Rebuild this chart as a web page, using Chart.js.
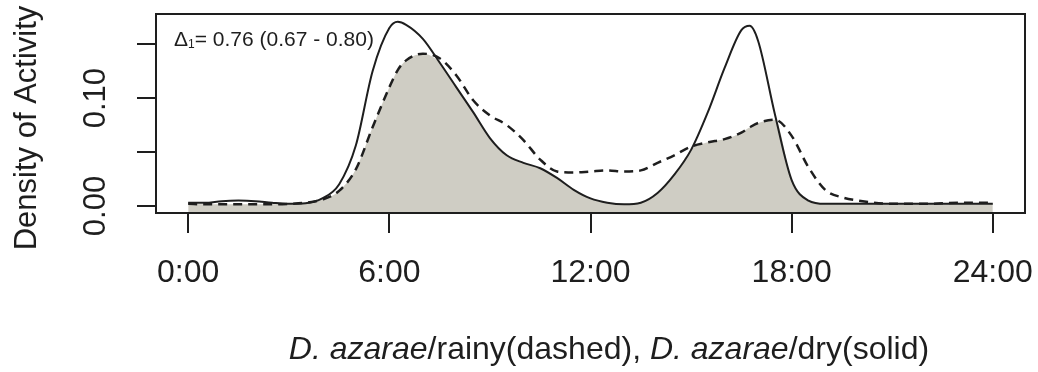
<!DOCTYPE html>
<html>
<head>
<meta charset="utf-8">
<script src="https://cdn.jsdelivr.net/npm/chart.js@4.4.1/dist/chart.umd.min.js"></script>
<style>
  html, body { margin: 0; padding: 0; background: #fff; }
</style>
</head>
<body>
<canvas id="overlapChart" width="1038" height="372"></canvas>
<script>
// kernel density of activity over the day, same hour grid for both seasons
const hours = [0, 0.5, 1, 1.5, 2, 2.5, 3, 3.5, 4, 4.5, 5, 5.5, 6, 6.25, 6.5, 7, 7.5, 8, 8.5, 9, 9.5,
  10, 10.5, 11, 11.5, 12, 12.5, 13, 13.5, 14, 14.5, 15, 15.5, 16, 16.5, 16.75, 17, 17.5, 18, 18.5,
  19, 19.5, 20, 21, 22, 23, 24];
const dryDensity = [0.003, 0.003, 0.0045, 0.005, 0.0045, 0.003, 0.002, 0.0025, 0.007, 0.02, 0.056,
  0.125, 0.165, 0.1707, 0.168, 0.155, 0.133, 0.11, 0.087, 0.063, 0.047, 0.04, 0.035, 0.026, 0.015,
  0.007, 0.003, 0.0015, 0.003, 0.012, 0.029, 0.052, 0.087, 0.128, 0.163, 0.167, 0.153, 0.085, 0.024,
  0.005, 0.002, 0.002, 0.002, 0.002, 0.002, 0.002, 0.002];
const rainyDensity = [0.002, 0.0015, 0.0015, 0.0015, 0.0015, 0.0015, 0.002, 0.003, 0.006, 0.014, 0.034,
  0.073, 0.11, 0.126, 0.135, 0.1412, 0.137, 0.121, 0.098, 0.084, 0.075, 0.061, 0.043, 0.032, 0.031,
  0.032, 0.033, 0.032, 0.033, 0.04, 0.047, 0.055, 0.059, 0.062, 0.068, 0.073, 0.077, 0.08, 0.065,
  0.036, 0.015, 0.008, 0.005, 0.002, 0.002, 0.003, 0.003];

const hourTicks = [0, 6, 12, 18, 24];
const hourLabels = ["0:00", "6:00", "12:00", "18:00", "24:00"];
const densityTicks = [0, 0.05, 0.1, 0.15];
const densityLabels = ["0.00", "", "0.10", ""];

const overlapEstimate = "0.76";
const overlapLower = "0.67";
const overlapUpper = "0.80";

const FONT = "'Liberation Sans', Arial, sans-serif";
const INK = "#1e1e1e";

function points(ys) {
  return hours.map((h, i) => ({ x: h, y: ys[i] }));
}

// shaded area = overlap of the two densities
const overlap = hours.map((h, i) => ({ x: h, y: Math.min(dryDensity[i], rainyDensity[i]) }));

// pin the axes so the plot region stays put whatever the label sizes are
function pinScale(size) {
  return s => {
    if (s.isHorizontal()) s.height = size; else s.width = size;
    s.paddingLeft = s.paddingRight = s.paddingTop = s.paddingBottom = 0;
  };
}

const decorations = {
  id: "decorations",
  afterDraw(chart) {
    const { ctx, chartArea: a } = chart;
    ctx.save();
    // frame around the plot region
    ctx.strokeStyle = INK;
    ctx.lineWidth = 2;
    ctx.strokeRect(a.left, a.top, a.right - a.left, a.bottom - a.top);

    ctx.fillStyle = INK;
    ctx.textBaseline = "alphabetic";
    // overlap coefficient with its confidence interval
    let x = 174;
    ctx.font = "21px " + FONT;
    ctx.fillText("\u0394", x, 46);
    x += ctx.measureText("\u0394").width;
    ctx.font = "12px " + FONT;
    ctx.fillText("1", x, 48);
    x += ctx.measureText("1").width;
    ctx.font = "21px " + FONT;
    ctx.fillText("= " + overlapEstimate + " (" + overlapLower + " - " + overlapUpper + ")", x, 46);

    // x axis title, species names in italics
    const parts = [
      ["D. azarae", "italic 32px " + FONT],
      ["/rainy(dashed), ", "32px " + FONT],
      ["D. azarae", "italic 32px " + FONT],
      ["/dry(solid)", "32px " + FONT]
    ];
    let total = 0;
    parts.forEach(p => { ctx.font = p[1]; total += ctx.measureText(p[0]).width; });
    x = 609 - total / 2;
    parts.forEach(p => {
      ctx.font = p[1];
      ctx.fillText(p[0], x, 359);
      x += ctx.measureText(p[0]).width;
    });

    // y axis title
    ctx.translate(27, 128);
    ctx.rotate(-Math.PI / 2);
    ctx.font = "31px " + FONT;
    ctx.textAlign = "center";
    ctx.textBaseline = "middle";
    ctx.fillText("Density of Activity", 0, 0);
    ctx.restore();
  }
};

new Chart(document.getElementById("overlapChart"), {
  type: "line",
  data: {
    datasets: [
      {
        label: "dry",
        data: points(dryDensity),
        borderColor: INK,
        borderWidth: 2,
        pointRadius: 0,
        fill: false,
        cubicInterpolationMode: "monotone",
        order: 1
      },
      {
        label: "rainy",
        data: points(rainyDensity),
        borderColor: INK,
        borderWidth: 2.5,
        borderDash: [9, 6],
        pointRadius: 0,
        fill: false,
        cubicInterpolationMode: "monotone",
        order: 2
      },
      {
        label: "overlap",
        data: overlap,
        borderWidth: 0,
        backgroundColor: "rgb(207, 205, 196)",
        pointRadius: 0,
        fill: "start",
        cubicInterpolationMode: "monotone",
        order: 3
      }
    ]
  },
  options: {
    responsive: false,
    animation: false,
    devicePixelRatio: 1,
    layout: { padding: { top: 14, right: 13, left: 0, bottom: 0 } },
    plugins: { legend: { display: false }, tooltip: { enabled: false } },
    scales: {
      x: {
        type: "linear",
        min: -0.96,
        max: 24.96,
        afterFit: pinScale(159),
        afterBuildTicks: s => { s.ticks = hourTicks.map(v => ({ value: v })); },
        border: { display: false },
        grid: { drawOnChartArea: false, drawTicks: true, tickLength: 20, color: INK, lineWidth: 2 },
        ticks: {
          padding: 21,
          color: INK,
          maxRotation: 0,
          font: { family: FONT, size: 32 },
          callback: (v) => hourLabels[hourTicks.indexOf(v)]
        }
      },
      y: {
        min: -0.0065,
        max: 0.178,
        afterFit: pinScale(156),
        afterBuildTicks: s => { s.ticks = densityTicks.map(v => ({ value: v })); },
        border: { display: false },
        grid: { drawOnChartArea: false, drawTicks: true, tickLength: 19, color: INK, lineWidth: 2 },
        ticks: {
          padding: 10,
          color: INK,
          minRotation: 90,
          maxRotation: 90,
          crossAlign: "center",
          font: { family: FONT, size: 31 },
          callback: (v) => densityLabels[densityTicks.indexOf(v)]
        }
      }
    }
  },
  plugins: [decorations]
});
</script>
</body>
</html>
